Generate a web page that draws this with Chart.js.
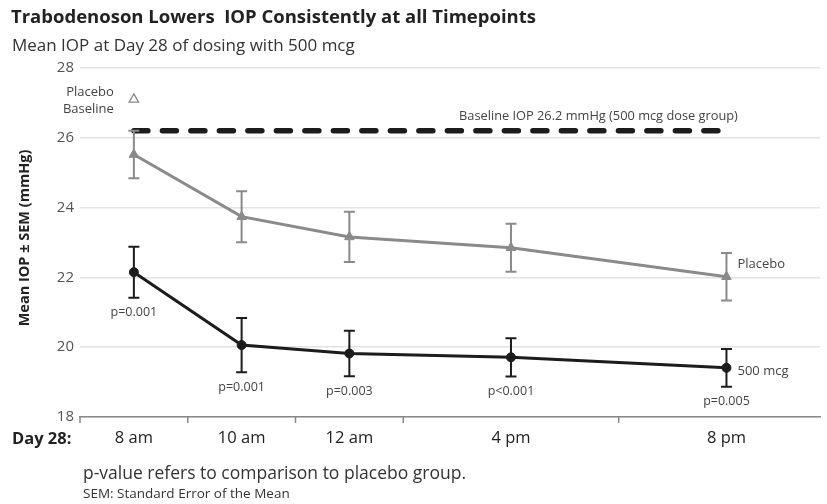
<!DOCTYPE html>
<html>
<head>
<meta charset="utf-8">
<script src="https://cdn.jsdelivr.net/npm/chart.js@4"></script>
<style>
  html, body { margin: 0; padding: 0; background: #fff; }
  #wrap { width: 827px; height: 504px; position: relative; }
</style>
</head>
<body>
<div id="wrap"><canvas id="iopChart" width="827" height="504"></canvas></div>
<script>
// Dados
const timeLabels = ['8 am', '10 am', '12 am', '4 pm', '8 pm'];
const xSlots = [0.5, 1.5, 2.5, 4, 6];          // posição de cada horário no eixo
const tickMarks = [0, 1, 2, 3, 5];              // marcas do eixo x
const placeboMean = [25.52, 23.74, 23.16, 22.85, 22.02];
const placeboSem = [0.68, 0.73, 0.72, 0.69, 0.68];
const mcgMean = [22.15, 20.06, 19.82, 19.71, 19.41];
const mcgSem = [0.73, 0.78, 0.65, 0.55, 0.54];
const pValues = ['p=0.001', 'p=0.001', 'p=0.003', 'p<0.001', 'p=0.005'];
const placeboBaseline = 27.1;
const baselineIop = 26.2;
const baselineSpan = [0.5, 6.05];
const yTicks = [18, 20, 22, 24, 26, 28];

const FONT = '"Open Sans", "Noto Sans", sans-serif';
const GRAY = '#8a8a8a';
const BLACK = '#1c1c1c';

// Barras de erro + textos
const annotations = {
    id: 'annotations',
    afterDatasetsDraw(chart) {
        const ctx = chart.ctx;
        const x = chart.scales.x, y = chart.scales.y;
        const drawErr = (means, sems, color) => {
            ctx.save();
            ctx.strokeStyle = color;
            ctx.lineWidth = 2;
            means.forEach((m, i) => {
                const px = x.getPixelForValue(xSlots[i]);
                const top = y.getPixelForValue(m + sems[i]);
                const bot = y.getPixelForValue(m - sems[i]);
                ctx.beginPath();
                ctx.moveTo(px, top); ctx.lineTo(px, bot);
                ctx.moveTo(px - 5.5, top); ctx.lineTo(px + 5.5, top);
                ctx.moveTo(px - 5.5, bot); ctx.lineTo(px + 5.5, bot);
                ctx.stroke();
            });
            ctx.restore();
        };
        drawErr(placeboMean, placeboSem, GRAY);
        drawErr(mcgMean, mcgSem, BLACK);

        ctx.save();
        // p-values abaixo das barras
        ctx.fillStyle = '#444';
        ctx.font = '12.5px ' + FONT;
        ctx.textAlign = 'center';
        ctx.textBaseline = 'middle';
        pValues.forEach((p, i) => {
            const px = x.getPixelForValue(xSlots[i]);
            const bot = y.getPixelForValue(mcgMean[i] - mcgSem[i]);
            ctx.fillText(p, px, bot + 15);
        });

        // rótulos das séries
        const lastX = x.getPixelForValue(xSlots[xSlots.length - 1]);
        ctx.textAlign = 'left';
        ctx.font = '13px ' + FONT;
        ctx.fillText('Placebo', lastX + 11, y.getPixelForValue(placeboMean[4]) - 12);
        ctx.fillText('500 mcg', lastX + 11, y.getPixelForValue(mcgMean[4]) + 4);

        // baseline
        ctx.textAlign = 'right';
        ctx.font = '12.8px ' + FONT;
        ctx.fillText('Baseline IOP 26.2 mmHg (500 mcg dose group)', x.getPixelForValue(baselineSpan[1]) + 6, y.getPixelForValue(baselineIop) - 14);
        ctx.font = '13px ' + FONT;
        const bx = x.getPixelForValue(xSlots[0]) - 20;
        const by = y.getPixelForValue(placeboBaseline);
        ctx.fillText('Placebo', bx, by - 7);
        ctx.fillText('Baseline', bx, by + 10);

        // marcas do eixo x
        ctx.strokeStyle = '#888';
        ctx.lineWidth = 1.5;
        tickMarks.forEach(t => {
            const px = x.getPixelForValue(t);
            ctx.beginPath();
            ctx.moveTo(px, chart.chartArea.bottom);
            ctx.lineTo(px, chart.chartArea.bottom + 6);
            ctx.stroke();
        });

        // títulos
        ctx.textAlign = 'left';
        ctx.fillStyle = '#222';
        ctx.font = 'bold 18.5px ' + FONT;
        ctx.fillText('Trabodenoson Lowers  IOP Consistently at all Timepoints', 11, 18);
        ctx.fillStyle = '#333';
        ctx.font = '17px ' + FONT;
        ctx.fillText('Mean IOP at Day 28 of dosing with 500 mcg', 12, 46);

        ctx.fillStyle = '#222';
        ctx.font = 'bold 16.5px ' + FONT;
        ctx.fillText('Day 28:', 12, 439);

        ctx.fillStyle = '#333';
        ctx.font = '17.5px ' + FONT;
        ctx.fillText('p-value refers to comparison to placebo group.', 83, 474);
        ctx.font = '13.5px ' + FONT;
        ctx.fillText('SEM: Standard Error of the Mean', 83, 494);

        // título do eixo y
        ctx.translate(25, 238);
        ctx.rotate(-Math.PI / 2);
        ctx.textAlign = 'center';
        ctx.fillStyle = '#222';
        ctx.font = 'bold 14.5px ' + FONT;
        ctx.fillText('Mean IOP ± SEM (mmHg)', 0, 0);
        ctx.restore();
    }
};

const ctx = document.getElementById('iopChart').getContext('2d');
new Chart(ctx, {
    type: 'line',
    data: {
        datasets: [
            {
                label: 'Baseline IOP',
                data: baselineSpan.map(v => ({ x: v, y: baselineIop })),
                borderColor: BLACK,
                borderWidth: 5.5,
                borderDash: [14, 14.5],
                borderCapStyle: 'round',
                pointRadius: 0
            },
            {
                label: 'Placebo',
                data: xSlots.map((v, i) => ({ x: v, y: placeboMean[i] })),
                borderColor: GRAY,
                backgroundColor: GRAY,
                borderWidth: 3,
                pointStyle: 'triangle',
                pointRadius: 5.5,
                pointBorderWidth: 1
            },
            {
                label: '500 mcg',
                data: xSlots.map((v, i) => ({ x: v, y: mcgMean[i] })),
                borderColor: BLACK,
                backgroundColor: BLACK,
                borderWidth: 3,
                pointRadius: 4.5,
                pointBorderWidth: 1
            },
            {
                label: 'Placebo Baseline',
                data: [{ x: xSlots[0], y: placeboBaseline }],
                borderColor: GRAY,
                backgroundColor: '#fff',
                pointStyle: 'triangle',
                pointRadius: 5.5,
                pointBorderWidth: 1.3,
                showLine: false
            }
        ]
    },
    options: {
        responsive: false,
        animation: false,
        layout: { padding: { top: 68, left: 0, right: 5, bottom: 0 } },
        plugins: { legend: { display: false }, tooltip: { enabled: false } },
        scales: {
            x: {
                type: 'linear',
                min: 0,
                max: 6.87,
                afterBuildTicks: (scale) => { scale.ticks = xSlots.map(v => ({ value: v })); },
                afterFit: (scale) => { scale.height = 87; },
                ticks: {
                    callback: (v) => timeLabels[xSlots.indexOf(v)],
                    color: '#222',
                    font: { family: FONT, size: 16.5 },
                    padding: 11,
                    maxRotation: 0,
                    autoSkip: false
                },
                grid: { display: false, drawTicks: false },
                border: { display: true, color: '#888', width: 1.5 }
            },
            y: {
                min: 18,
                max: 28,
                afterBuildTicks: (scale) => { scale.ticks = yTicks.map(v => ({ value: v })); },
                afterFit: (scale) => { scale.width = 80; },
                ticks: {
                    color: '#555',
                    font: { family: FONT, size: 15 },
                    padding: 6
                },
                grid: { color: '#e3e3e3', lineWidth: 1.5, drawTicks: false },
                border: { display: false }
            }
        }
    },
    plugins: [annotations]
});
</script>
</body>
</html>
